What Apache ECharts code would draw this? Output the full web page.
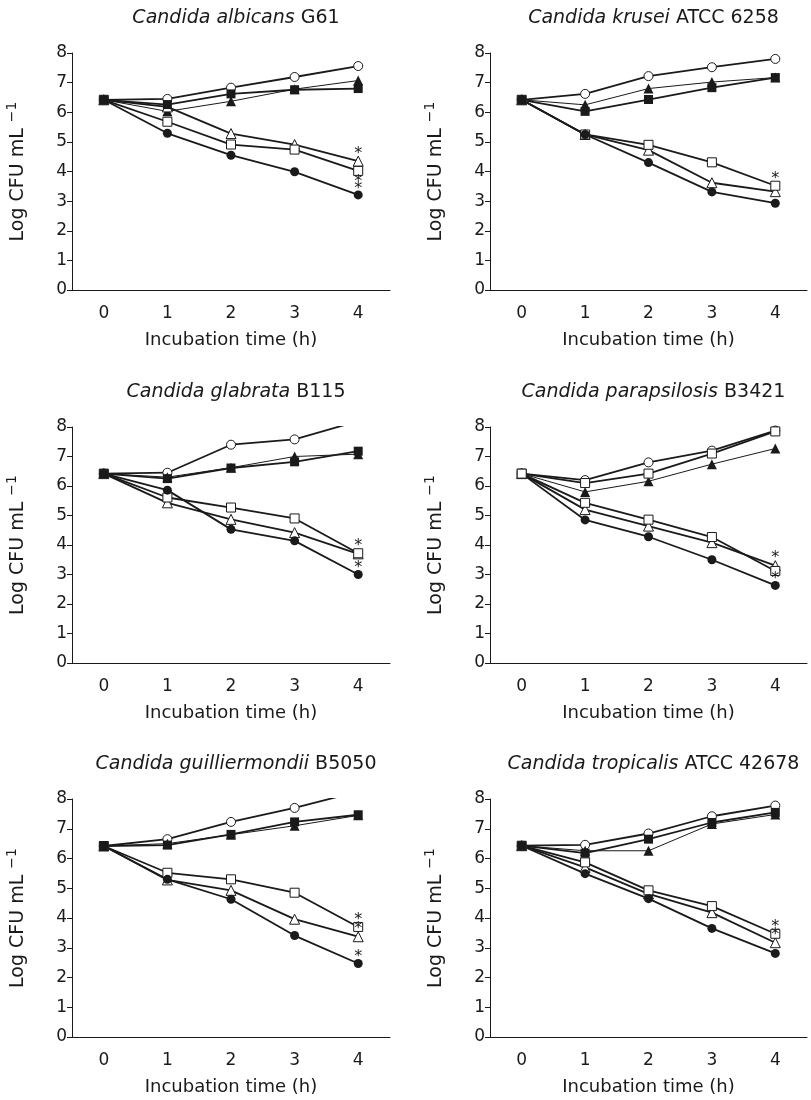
<!DOCTYPE html>
<html>
<head>
<meta charset="utf-8">
<title>Log CFU over incubation time</title>
<script src="https://cdn.jsdelivr.net/npm/echarts@6/dist/echarts.min.js"></script>
<style>
html, body { margin: 0; padding: 0; background: #fff; }
#main { width: 811px; height: 1100px; }
</style>
</head>
<body>
<div id="main"></div>
<script>
const hours = ['0', '1', '2', '3', '4'];
const yTicks = [0, 8, 1]; // min, max, step

const strains = [
  ['Candida albicans', 'G61'],
  ['Candida krusei', 'ATCC 6258'],
  ['Candida glabrata', 'B115'],
  ['Candida parapsilosis', 'B3421'],
  ['Candida guilliermondii', 'B5050'],
  ['Candida tropicalis', 'ATCC 42678']
];

// one row per panel, values at 0..4 h
const openCircle = [
  [6.42, 6.45, 6.83, 7.19, 7.56],
  [6.42, 6.62, 7.22, 7.52, 7.80],
  [6.42, 6.45, 7.40, 7.58, 8.20],
  [6.42, 6.20, 6.80, 7.20, 7.88],
  [6.42, 6.65, 7.23, 7.70, 8.25],
  [6.43, 6.46, 6.84, 7.42, 7.78]
];
const filledTriangle = [
  [6.42, 6.03, 6.37, 6.78, 7.07],
  [6.42, 6.25, 6.80, 7.02, 7.17],
  [6.42, 6.30, 6.62, 7.00, 7.08],
  [6.42, 5.80, 6.16, 6.74, 7.27],
  [6.42, 6.50, 6.80, 7.10, 7.45],
  [6.43, 6.26, 6.26, 7.16, 7.48]
];
const filledSquare = [
  [6.42, 6.26, 6.62, 6.76, 6.80],
  [6.42, 6.03, 6.43, 6.83, 7.17],
  [6.42, 6.25, 6.61, 6.82, 7.18],
  [6.42, 6.10, 6.42, 7.10, 7.85],
  [6.42, 6.45, 6.81, 7.23, 7.47],
  [6.43, 6.18, 6.65, 7.21, 7.55]
];
const openTriangle = [
  [6.42, 6.18, 5.28, 4.91, 4.35],
  [6.42, 5.25, 4.72, 3.62, 3.32],
  [6.42, 5.43, 4.87, 4.42, 3.70],
  [6.42, 5.20, 4.64, 4.08, 3.30],
  [6.42, 5.28, 4.93, 3.96, 3.37],
  [6.43, 5.70, 4.81, 4.18, 3.17]
];
const openSquare = [
  [6.42, 5.68, 4.91, 4.74, 4.02],
  [6.42, 5.25, 4.90, 4.31, 3.52],
  [6.42, 5.61, 5.27, 4.90, 3.72],
  [6.42, 5.43, 4.86, 4.27, 3.12],
  [6.42, 5.52, 5.30, 4.85, 3.70],
  [6.43, 5.87, 4.93, 4.40, 3.47]
];
const filledCircle = [
  [6.42, 5.29, 4.55, 3.99, 3.21],
  [6.42, 5.25, 4.30, 3.31, 2.93],
  [6.42, 5.86, 4.53, 4.14, 3.00],
  [6.42, 4.85, 4.28, 3.50, 2.63],
  [6.42, 5.30, 4.63, 3.41, 2.47],
  [6.43, 5.49, 4.65, 3.65, 2.81]
];

// significance asterisks at 4 h: series key -> side of the marker
const stars = [
  { openTriangle: 'top', openSquare: 'bottom', filledCircle: 'top' },
  { openSquare: 'top' },
  { openSquare: 'top', filledCircle: 'top' },
  { openTriangle: 'top', filledCircle: 'top' },
  { openSquare: 'top', openTriangle: 'top', filledCircle: 'top' },
  { openSquare: 'top', openTriangle: 'top' }
];
// panel 4 shows the square growth curve with hollow marks
const hollowSquares = [false, false, false, true, false, false];

const FONT = 'DejaVu Sans';
const INK = '#1a1a1a';

const cols = [{ left: 72, width: 318 }, { left: 490, width: 317 }];
const rows = [{ top: 53, height: 237 }, { top: 427, height: 236 }, { top: 799, height: 238 }];

// draw order: last one ends up on top
const kinds = [
  { key: 'openCircle', data: openCircle, symbol: 'circle', size: 9, open: true, width: 1.8 },
  { key: 'filledTriangle', data: filledTriangle, symbol: 'triangle', size: 10, open: false, width: 1 },
  { key: 'openTriangle', data: openTriangle, symbol: 'triangle', size: 10, open: true, width: 1.8 },
  { key: 'openSquare', data: openSquare, symbol: 'rect', size: 9, open: true, width: 1.8 },
  { key: 'filledCircle', data: filledCircle, symbol: 'circle', size: 9, open: false, width: 1.8 },
  { key: 'filledSquare', data: filledSquare, symbol: 'rect', size: 9, open: false, width: 1.8 }
];

const grid = [], xAxis = [], yAxis = [], title = [], series = [];

strains.forEach(function (s, i) {
  const c = cols[i % 2], r = rows[Math.floor(i / 2)];
  grid.push({ left: c.left, top: r.top, width: c.width, height: r.height });

  title.push({
    text: '{i|' + s[0] + '} ' + s[1],
    left: c.left + c.width / 2,
    top: r.top - 49,
    textAlign: 'center',
    textStyle: {
      fontFamily: FONT, fontSize: 19, fontWeight: 'normal', color: INK,
      rich: { i: { fontFamily: FONT, fontSize: 19, fontStyle: 'italic', color: INK } }
    }
  });

  xAxis.push({
    type: 'category', gridIndex: i, data: hours, boundaryGap: true,
    name: 'Incubation time (h)', nameLocation: 'middle', nameGap: 41,
    nameTextStyle: { fontFamily: FONT, fontSize: 18, color: INK },
    axisLine: { lineStyle: { color: INK, width: 1 } },
    axisTick: { length: 5, lineStyle: { color: INK } },
    axisLabel: { fontFamily: FONT, fontSize: 17, color: INK, margin: 15 }
  });

  yAxis.push({
    type: 'value', gridIndex: i, min: yTicks[0], max: yTicks[1], interval: yTicks[2],
    name: 'Log CFU mL {sup|−1}', nameLocation: 'middle', nameGap: 41,
    nameTextStyle: {
      fontFamily: FONT, fontSize: 19, color: INK,
      rich: { sup: { fontFamily: FONT, fontSize: 14, color: INK, padding: [0, 0, 12, 0] } }
    },
    axisLine: { show: true, lineStyle: { color: INK, width: 1 } },
    axisTick: { show: true, length: 5, lineStyle: { color: INK } },
    splitLine: { show: false },
    axisLabel: { fontFamily: FONT, fontSize: 17, color: INK, margin: 5 }
  });

  kinds.forEach(function (k) {
    const open = k.open || (k.key === 'filledSquare' && hollowSquares[i]);
    const side = stars[i][k.key];
    const data = k.data[i].map(function (v, j) {
      if (j === hours.length - 1 && side) {
        return {
          value: v,
          label: {
            show: true, formatter: '*', position: side, distance: 0,
            offset: [0, side === 'top' ? 6 : -2],
            fontFamily: FONT, fontSize: 16, color: INK
          }
        };
      }
      return v;
    });
    series.push({
      type: 'line', xAxisIndex: i, yAxisIndex: i, data: data,
      symbol: k.symbol, symbolSize: k.size, showAllSymbol: true,
      lineStyle: { color: INK, width: k.width },
      itemStyle: open
        ? { color: '#fff', borderColor: INK, borderWidth: 1 }
        : { color: INK, borderColor: INK, borderWidth: 0 },
      emphasis: { disabled: true },
      clip: true
    });
  });
});

const chart = echarts.init(document.getElementById('main'));
chart.setOption({
  animation: false,
  backgroundColor: '#fff',
  title: title,
  grid: grid,
  xAxis: xAxis,
  yAxis: yAxis,
  series: series
});
</script>
</body>
</html>
